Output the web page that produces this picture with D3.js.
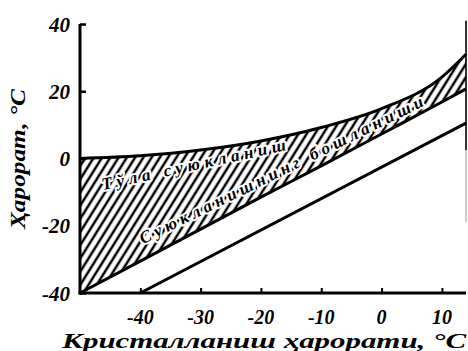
<!DOCTYPE html>
<html>
<head>
<meta charset="utf-8">
<script src="https://cdn.jsdelivr.net/npm/d3@7"></script>
<style>
  html, body { margin: 0; padding: 0; background: #fff; }
  svg { display: block; }
</style>
</head>
<body>
<div id="chart"></div>
<script>
// Data (°C)
const xTicks = [-40, -30, -20, -10, 0, 10];
const yTicks = [-40, -20, 0, 20, 40];
// Full melting curve ("Тўла суюкланиш")
const fullX = [-50, -40, -30, -20, -10, 0, 10, 14];
const fullY = [0, 0.8, 2.5, 5.2, 9.2, 14.8, 24.2, 31];
// Start of melting curve ("Суюкланишнинг бошланиши")
const startX = [-50, -40, -30, -20, -10, 0, 10, 14];
const startY = [-40, -30.5, -21, -11.5, -2.2, 7.3, 16.8, 20.7];
// Crystallization temperature line
const crystX = [-40, 14];
const crystY = [-40, 10.5];
const labelFull = "Тўла суюкланиш";
const labelStart = "Суюкланишнинг бошланиши";
const xTitle = "Кристалланиш ҳарорати, °С";
const yTitle = "Ҳарорат, °С";

const FONT = "Liberation Serif, Times New Roman, DejaVu Serif, serif";
const W = 468, H = 351;
const svg = d3.select("#chart").append("svg").attr("width", W).attr("height", H);

const x = d3.scaleLinear().domain([-50, 14]).range([80, 466]);
const y = d3.scaleLinear().domain([-40, 40]).range([293, 24]);

function styled(sel, size) {
  return sel.attr("font-family", FONT).attr("font-weight", "bold")
    .attr("font-style", "italic").attr("font-size", size).attr("fill", "#000");
}
const fmt = d => d < 0 ? "-" + Math.abs(d) : String(d);

// hatch pattern
const defs = svg.append("defs");
const pat = defs.append("pattern")
  .attr("id", "hatch").attr("patternUnits", "userSpaceOnUse")
  .attr("width", 7).attr("height", 10)
  .attr("patternTransform", "rotate(32)");
pat.append("line").attr("x1", 2).attr("y1", -2).attr("x2", 2).attr("y2", 12)
  .attr("stroke", "#000").attr("stroke-width", 2.5);

const full = fullX.map((d, i) => [d, fullY[i]]);
const start = startX.map((d, i) => [d, startY[i]]);
const cross = crystX.map((d, i) => [d, crystY[i]]);

const area = d3.area()
  .x(d => x(d[0]))
  .y0(d => y(d[1]))
  .y1(d => y(d[2]))
  .curve(d3.curveMonotoneX);
const band = fullX.map((d, i) => [d, startY[i], fullY[i]]);
svg.append("path").datum(band).attr("d", area).attr("fill", "url(#hatch)");

const line = d3.line().x(d => x(d[0])).y(d => y(d[1])).curve(d3.curveMonotoneX);
svg.append("path").datum(full).attr("d", line).attr("fill", "none").attr("stroke", "#000").attr("stroke-width", 3);
svg.append("path").datum(start).attr("d", line).attr("fill", "none").attr("stroke", "#000").attr("stroke-width", 3);
svg.append("path").datum(cross).attr("d", d3.line().x(d => x(d[0])).y(d => y(d[1])))
  .attr("fill", "none").attr("stroke", "#000").attr("stroke-width", 3);

// right frame line (faded lower part)
svg.append("line").attr("x1", x(14)).attr("x2", x(14)).attr("y1", y(41)).attr("y2", y(2.5))
  .attr("stroke", "#000").attr("stroke-width", 1.6);
svg.append("line").attr("x1", x(14)).attr("x2", x(14)).attr("y1", y(2.5)).attr("y2", y(-19))
  .attr("stroke", "#999").attr("stroke-width", 1);

// axes (lines and ticks from d3 axes, labels drawn with the same scales)
const gx = svg.append("g").attr("transform", `translate(0,${y(-40)})`)
  .call(d3.axisBottom(x).tickValues(xTicks).tickSize(-5).tickFormat(""));
gx.select(".domain").attr("d", `M${x(-50) - 1.5},0H${x(14)}`).attr("stroke-width", 3);
gx.selectAll(".tick line").attr("stroke-width", 2);
styled(svg.append("g").selectAll("text").data(xTicks).join("text"), 20)
  .attr("x", d => x(d)).attr("y", 324).attr("text-anchor", "middle").text(fmt);

const gy = svg.append("g").attr("transform", `translate(${x(-50)},0)`)
  .call(d3.axisLeft(y).tickValues(yTicks).tickSize(-6).tickFormat(""));
gy.select(".domain").attr("d", `M0,${y(40)}V${y(-40) + 1.5}`).attr("stroke-width", 3);
gy.selectAll(".tick line").attr("stroke-width", 2.5).attr("opacity", d => d === -20 ? 0 : 1);
styled(svg.append("g").selectAll("text").data(yTicks).join("text"), 21)
  .attr("x", 70).attr("y", d => y(d) + 7.5).attr("text-anchor", "end").text(fmt);

// axis titles
styled(svg.append("text"), 20).attr("x", 264).attr("y", 348).attr("text-anchor", "middle")
  .attr("textLength", 404).attr("lengthAdjust", "spacingAndGlyphs").text(xTitle);
styled(svg.append("text"), 21).attr("transform", "translate(25,159) rotate(-90)").attr("text-anchor", "middle")
  .attr("textLength", 140).attr("lengthAdjust", "spacingAndGlyphs").text(yTitle);

// region labels
function rotLabel(txt, px, py, ang, len) {
  styled(svg.append("text"), 17)
    .attr("transform", `translate(${px},${py}) rotate(${ang})`)
    .attr("textLength", len).attr("lengthAdjust", "spacing")
    .attr("stroke", "#fff").attr("stroke-width", 4).attr("paint-order", "stroke")
    .attr("stroke-linejoin", "round")
    .text(txt);
}
rotLabel(labelFull, x(-46.2), y(-9.4), -12.3, 188);
rotLabel(labelStart, x(-39.6), y(-25.5), -26.2, 314);
</script>
</body>
</html>
